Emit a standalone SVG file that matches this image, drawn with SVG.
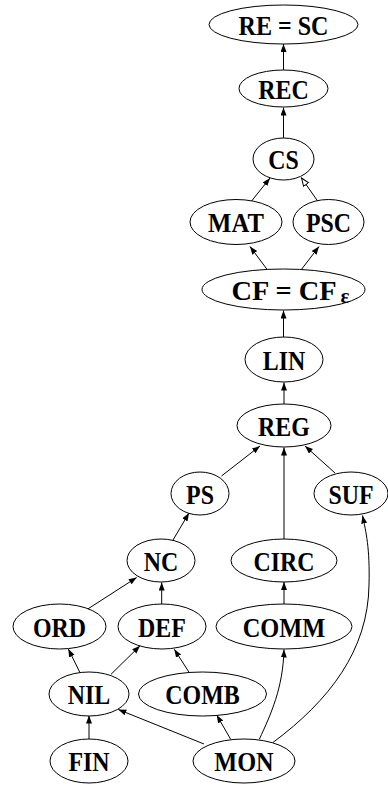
<svg xmlns="http://www.w3.org/2000/svg" width="388" height="787" viewBox="0 0 388 787">
<style>
ellipse{fill:#fff;stroke:#000;stroke-width:1}
text{font-family:"Liberation Serif","Times New Roman",serif;font-weight:bold;font-size:26.5px;text-anchor:middle;fill:#000}
.e{fill:none;stroke:#000;stroke-width:1;marker-end:url(#a)}
.o{fill:none;stroke:#000;stroke-width:1;marker-end:url(#h)}
</style>
<defs>
<marker id="a" markerUnits="userSpaceOnUse" markerWidth="10" markerHeight="8" refX="8" refY="3" orient="auto"><path d="M0,0 L8,3 L0,6 z" fill="#000"/></marker>
<marker id="h" markerUnits="userSpaceOnUse" markerWidth="10" markerHeight="8" refX="8.5" refY="3.5" orient="auto"><path d="M0.5,0.5 L8.5,3.5 L0.5,6.5 z" fill="#fff" stroke="#000" stroke-width="1"/></marker>
</defs>
<rect width="388" height="787" fill="#fff"/>
<g id="connectors">
<path class="e" d="M283.5,70 L283.5,44"/>
<path class="e" d="M283.5,138 L283.5,107.5"/>
<path class="e" d="M250,203 L270,178"/>
<path class="o" d="M319,203 L301.5,178"/>
<path class="e" d="M267.5,270 L250,246.5"/>
<path class="e" d="M301,270 L319,246.5"/>
<path class="e" d="M283.5,337 L283.5,310.5"/>
<path class="e" d="M284,404 L284,382.5"/>
<path class="e" d="M221.5,476 L260,446"/>
<path class="e" d="M284,539 L284,447.5"/>
<path class="e" d="M335,473 L305,446"/>
<path class="e" d="M173,540 L189,513"/>
<path class="e" d="M272.7,742.7 C330,700 368,650 369,585 C370,548 366,532 362.5,515.5"/>
<path class="e" d="M284,604 L284,582"/>
<path class="e" d="M259.3,739.3 C271,714 283,688 284,649.5"/>
<path class="e" d="M87.3,609.3 L136.7,577.5"/>
<path class="e" d="M161.7,604 L161.7,582.5"/>
<path class="e" d="M80,672.7 L68.3,649"/>
<path class="e" d="M111,674.3 L140,645.8"/>
<path class="e" d="M189.3,672.7 L174.3,649.3"/>
<path class="e" d="M89,739.3 L89,715.5"/>
<path class="e" d="M204,744 L118.3,709.5"/>
<path class="e" d="M230.7,739.3 L216.7,715"/>
</g>
<g id="RE_SC"><ellipse cx="283.5" cy="24.5" rx="74.5" ry="19.5"/><text x="283.5" y="34.5" textLength="90" lengthAdjust="spacingAndGlyphs">RE = SC</text></g>
<g id="REC"><ellipse cx="283.5" cy="88.5" rx="44.5" ry="18.5"/><text x="283.5" y="98.5" textLength="50.6" lengthAdjust="spacingAndGlyphs">REC</text></g>
<g id="CS"><ellipse cx="283.5" cy="159" rx="30.5" ry="21"/><text x="283.5" y="169" textLength="30.5" lengthAdjust="spacingAndGlyphs">CS</text></g>
<g id="MAT"><ellipse cx="236" cy="222" rx="46" ry="22.5"/><text x="236" y="232" textLength="55.8" lengthAdjust="spacingAndGlyphs">MAT</text></g>
<g id="PSC"><ellipse cx="328.5" cy="222" rx="35.5" ry="22.5"/><text x="328.5" y="232" textLength="45.1" lengthAdjust="spacingAndGlyphs">PSC</text></g>
<g id="CF"><ellipse cx="283.5" cy="289.5" rx="81.5" ry="20.5"/><text x="284" y="299.5" textLength="105" lengthAdjust="spacingAndGlyphs">CF = CF</text><text x="345" y="303" style="font-size:21px">ε</text></g>
<g id="LIN"><ellipse cx="284" cy="359.5" rx="39" ry="22.5"/><text x="284" y="369.5" textLength="42.5" lengthAdjust="spacingAndGlyphs">LIN</text></g>
<g id="REG"><ellipse cx="284" cy="425.5" rx="47" ry="21.5"/><text x="284" y="435.5" textLength="51.8" lengthAdjust="spacingAndGlyphs">REG</text></g>
<g id="PS"><ellipse cx="200" cy="493.5" rx="29" ry="21.5"/><text x="200" y="503.5" textLength="27.9" lengthAdjust="spacingAndGlyphs">PS</text></g>
<g id="SUF"><ellipse cx="351" cy="493.5" rx="37" ry="21.5"/><text x="351" y="503.5" textLength="45.1" lengthAdjust="spacingAndGlyphs">SUF</text></g>
<g id="NC"><ellipse cx="161" cy="560.5" rx="34" ry="21.5"/><text x="161" y="570.5" textLength="34.5" lengthAdjust="spacingAndGlyphs">NC</text></g>
<g id="CIRC"><ellipse cx="284" cy="560.5" rx="53" ry="21.5"/><text x="284" y="570.5" textLength="61" lengthAdjust="spacingAndGlyphs">CIRC</text></g>
<g id="ORD"><ellipse cx="59.5" cy="626.5" rx="46.5" ry="22.5"/><text x="59.5" y="636.5" textLength="53.1" lengthAdjust="spacingAndGlyphs">ORD</text></g>
<g id="DEF"><ellipse cx="162" cy="626.5" rx="44" ry="22.5"/><text x="162" y="636.5" textLength="47.8" lengthAdjust="spacingAndGlyphs">DEF</text></g>
<g id="COMM"><ellipse cx="284" cy="626.5" rx="68" ry="22.5"/><text x="284" y="636.5" textLength="82.7" lengthAdjust="spacingAndGlyphs">COMM</text></g>
<g id="NIL"><ellipse cx="89" cy="694" rx="40" ry="22"/><text x="89" y="704" textLength="42.5" lengthAdjust="spacingAndGlyphs">NIL</text></g>
<g id="COMB"><ellipse cx="202.5" cy="694" rx="64" ry="22"/><text x="202.5" y="704" textLength="74.4" lengthAdjust="spacingAndGlyphs">COMB</text></g>
<g id="FIN"><ellipse cx="89" cy="761" rx="39" ry="22"/><text x="89" y="771" textLength="41.2" lengthAdjust="spacingAndGlyphs">FIN</text></g>
<g id="MON"><ellipse cx="244" cy="761" rx="51" ry="22"/><text x="244" y="771" textLength="59.3" lengthAdjust="spacingAndGlyphs">MON</text></g>
</svg>
